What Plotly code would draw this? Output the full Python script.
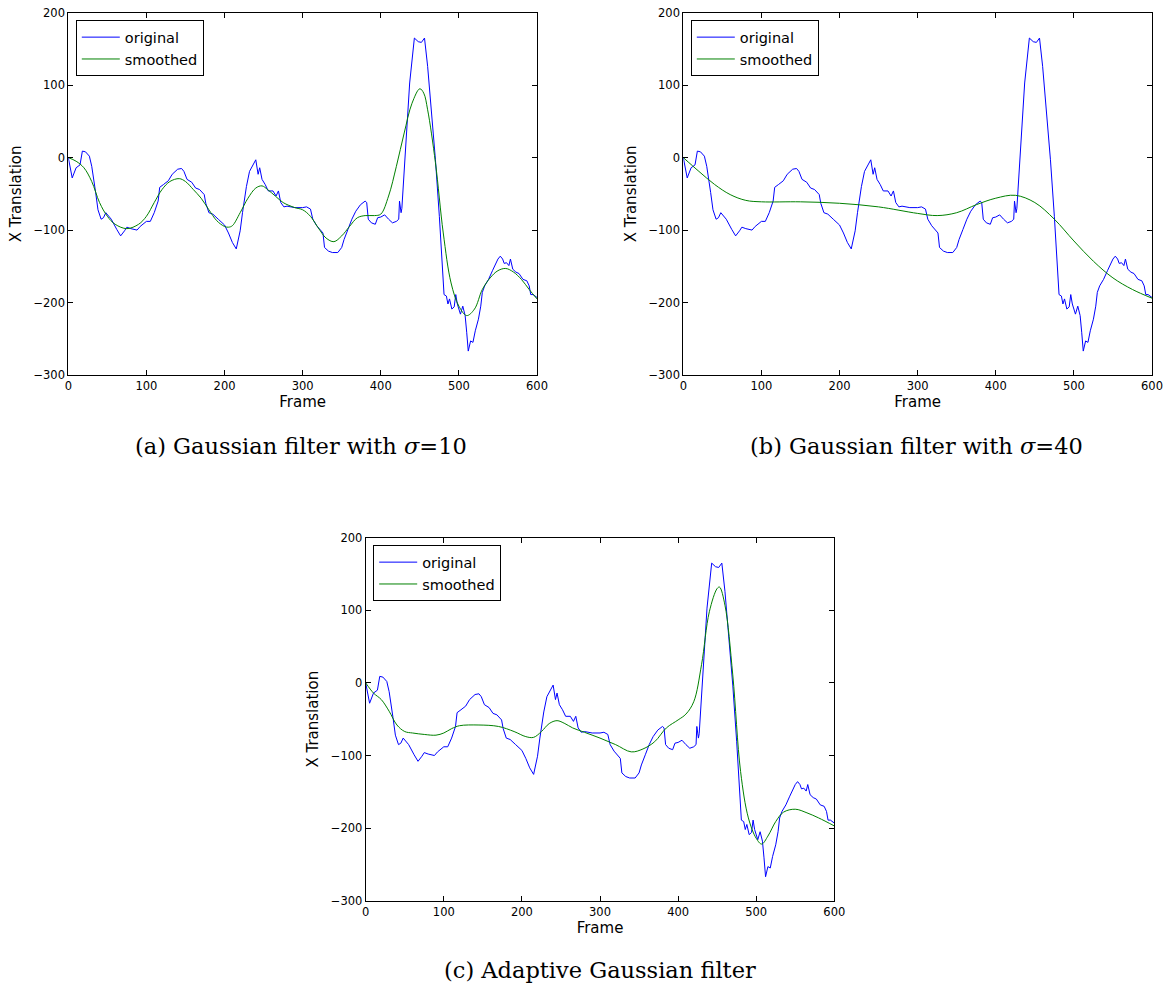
import plotly.graph_objects as go

# ---- data ----
frames_orig = [0, 5, 10, 12, 15, 18, 22, 27, 30, 35, 38, 42, 45, 48, 55, 62, 67, 72, 75, 80, 88, 92, 97, 100,
               105, 110, 115, 117, 122, 128, 133, 140, 145, 148, 152, 158, 163, 168, 174, 176, 180, 185, 192,
               200, 205, 210, 215, 217, 220, 223, 228, 232, 236, 240, 243, 245, 248, 252, 256, 262, 266, 269,
               272, 276, 280, 290, 300, 305, 310, 313, 318, 322, 326, 328, 333, 338, 345, 350, 353, 358, 363,
               368, 374, 380, 382, 384, 388, 393, 396, 400, 405, 410, 415, 420, 423, 424, 426, 427, 433, 437,
               443, 448, 452, 456, 460, 465, 470, 475, 478, 481, 484, 486, 488, 491, 494, 496, 498, 502, 505,
               508, 510, 512, 515, 518, 521, 525, 528, 530, 533, 538, 543, 547, 550, 553, 556, 558, 561, 564,
               566, 569, 573, 577, 582, 587, 590, 592, 595, 600]
x_orig = [0, -28, -14, -12, -10, 9, 8, 2, -12, -48, -72, -85, -83, -76, -85, -99, -108, -101, -96, -98, -100,
          -95, -90, -88, -88, -76, -60, -41, -37, -32, -23, -16, -15, -19, -30, -34, -42, -44, -51, -63, -76,
          -78, -85, -93, -104, -117, -126, -117, -101, -76, -40, -19, -10, -3, -23, -14, -30, -37, -46, -46,
          -53, -46, -62, -68, -67, -69, -69, -68, -71, -85, -94, -99, -104, -124, -129, -131, -131, -124,
          -113, -99, -85, -74, -65, -60, -62, -85, -90, -92, -83, -82, -79, -85, -90, -88, -85, -60, -76,
          -70, 34, 103, 165, 160, 159, 165, 126, 66, -3, -81, -140, -189, -191, -202, -195, -209, -206, -189,
          -202, -216, -205, -218, -241, -267, -253, -255, -239, -223, -205, -186, -177, -168, -156, -147,
          -140, -136, -140, -146, -145, -149, -140, -154, -158, -160, -168, -170, -177, -189, -189, -193]

frames_s10 = [0, 10, 20, 30, 40, 50, 60, 75, 90, 100, 110, 120, 130, 142, 150, 160, 170, 180, 190, 200, 205,
              210, 220, 230, 240, 248, 255, 265, 275, 290, 300, 310, 320, 330, 340, 350, 360, 370, 380, 392,
              400, 410, 420, 430, 440, 450, 455, 460, 470, 480, 490, 500, 510, 520, 530, 540, 550, 560, 570,
              580, 590, 600]
x_s10 = [0, -5, -14, -33, -62, -81, -92, -98, -92, -81, -62, -44, -33, -29, -33, -44, -56, -72, -87, -95, -96,
         -94, -76, -56, -42, -39, -44, -53, -62, -69, -72, -81, -97, -111, -116, -108, -95, -83, -80, -80,
         -78, -53, -12, 34, 75, 95, 89, 66, -7, -104, -173, -205, -218, -209, -182, -166, -156, -153, -158,
         -168, -182, -195]

frames_s40 = [0, 20, 40, 60, 80, 100, 150, 200, 250, 300, 325, 350, 375, 400, 425, 450, 475, 500, 525, 550,
              575, 600]
x_s40 = [0, -19, -37, -51, -59, -61, -61, -63, -68, -77, -80, -76, -65, -56, -52, -62, -85, -115, -143, -166,
         -182, -194]

frames_ad = [0, 10, 20, 30, 40, 50, 60, 75, 90, 100, 110, 120, 145, 170, 190, 205, 215, 225, 235, 245, 255,
             265, 280, 300, 320, 340, 355, 370, 385, 400, 410, 420, 430, 440, 450, 453, 460, 470, 480, 490,
             500, 507, 515, 525, 535, 550, 565, 580, 600]
x_ad = [0, -14, -23, -39, -58, -67, -69, -71, -72, -69, -63, -59, -58, -60, -67, -74, -75, -67, -56, -52, -56,
        -62, -68, -76, -85, -95, -91, -81, -62, -51, -43, -26, 25, 98, 130, 132, 107, 11, -122, -186, -214,
        -222, -211, -191, -178, -174, -179, -186, -197]

x_ticks = [0, 100, 200, 300, 400, 500, 600]
y_ticks = [-300, -200, -100, 0, 100, 200]
captions = ["(a) Gaussian filter with <i>σ</i>=10", "(b) Gaussian filter with <i>σ</i>=40",
            "(c) Adaptive Gaussian filter"]
smooth_sets = [(frames_s10, x_s10), (frames_s40, x_s40), (frames_ad, x_ad)]

W, H = 1173, 988
# panel pixel boxes in page coordinates: (left, right, top, bottom)
boxes = [(68.3, 537.0, 12.7, 375.0), (683.3, 1152.0, 12.7, 375.0), (365.7, 834.3, 537.7, 900.7)]
cap_pos = [(301, 446), (917, 446), (600, 970)]

fig = go.Figure()
tick_font = dict(family="DejaVu Sans", size=11.5, color="black")
title_font = dict(family="DejaVu Sans", size=15, color="black")

for i, ((fs, vs), (l, r, t, b)) in enumerate(zip(smooth_sets, boxes)):
    n = "" if i == 0 else str(i + 1)
    leg = "legend" if i == 0 else f"legend{i + 1}"
    fig.add_trace(go.Scatter(x=frames_orig, y=x_orig, mode="lines", name="original",
                             line=dict(color="#0000ff", width=1), xaxis=f"x{n}", yaxis=f"y{n}", legend=leg))
    fig.add_trace(go.Scatter(x=fs, y=vs, mode="lines", name="smoothed", line_shape="spline",
                             line=dict(color="#008000", width=1), xaxis=f"x{n}", yaxis=f"y{n}", legend=leg))
    dx = [l / W, r / W]
    dy = [1 - b / H, 1 - t / H]
    xa = dict(domain=dx, range=[0, 600], tickvals=x_ticks, ticks="inside", ticklen=5, tickcolor="black",
              showline=True, linecolor="black", linewidth=1, mirror="allticks", showgrid=False, zeroline=False,
              tickfont=tick_font, title=dict(text="Frame", font=title_font, standoff=4),
              anchor=f"y{n}", automargin=False, ticklabeloverflow="allow")
    ya = dict(domain=dy, range=[-300, 200], tickvals=y_ticks, ticks="inside", ticklen=5, tickcolor="black",
              showline=True, linecolor="black", linewidth=1, mirror="allticks", showgrid=False, zeroline=False,
              tickfont=tick_font, title=dict(text="X Translation", font=title_font, standoff=8),
              anchor=f"x{n}", automargin=False, ticklabeloverflow="allow")
    fig.update_layout(**{f"xaxis{n}": xa, f"yaxis{n}": ya})
    fig.update_layout(**{leg: dict(x=(l + 7.5) / W, y=1 - (t + 7.5) / H, xanchor="left", yanchor="top",
                                   xref="paper", yref="paper",
                                   bgcolor="white", bordercolor="black", borderwidth=1,
                                   font=dict(family="DejaVu Sans", size=14.5, color="black"),
                                   tracegroupgap=0, itemwidth=38)})
    cx, cy = cap_pos[i]
    fig.add_annotation(text=captions[i], x=cx / W, y=1 - cy / H, xref="paper", yref="paper",
                       showarrow=False, xanchor="center", yanchor="middle",
                       font=dict(family="DejaVu Serif", size=22.5, color="black"))

fig.update_layout(width=W, height=H, margin=dict(l=0, r=0, t=0, b=0), paper_bgcolor="white",
                  plot_bgcolor="white", showlegend=True)
fig.write_html("out.html", config={"displayModeBar": False},
               post_script="document.body.style.margin='0';document.body.style.padding='0';")
